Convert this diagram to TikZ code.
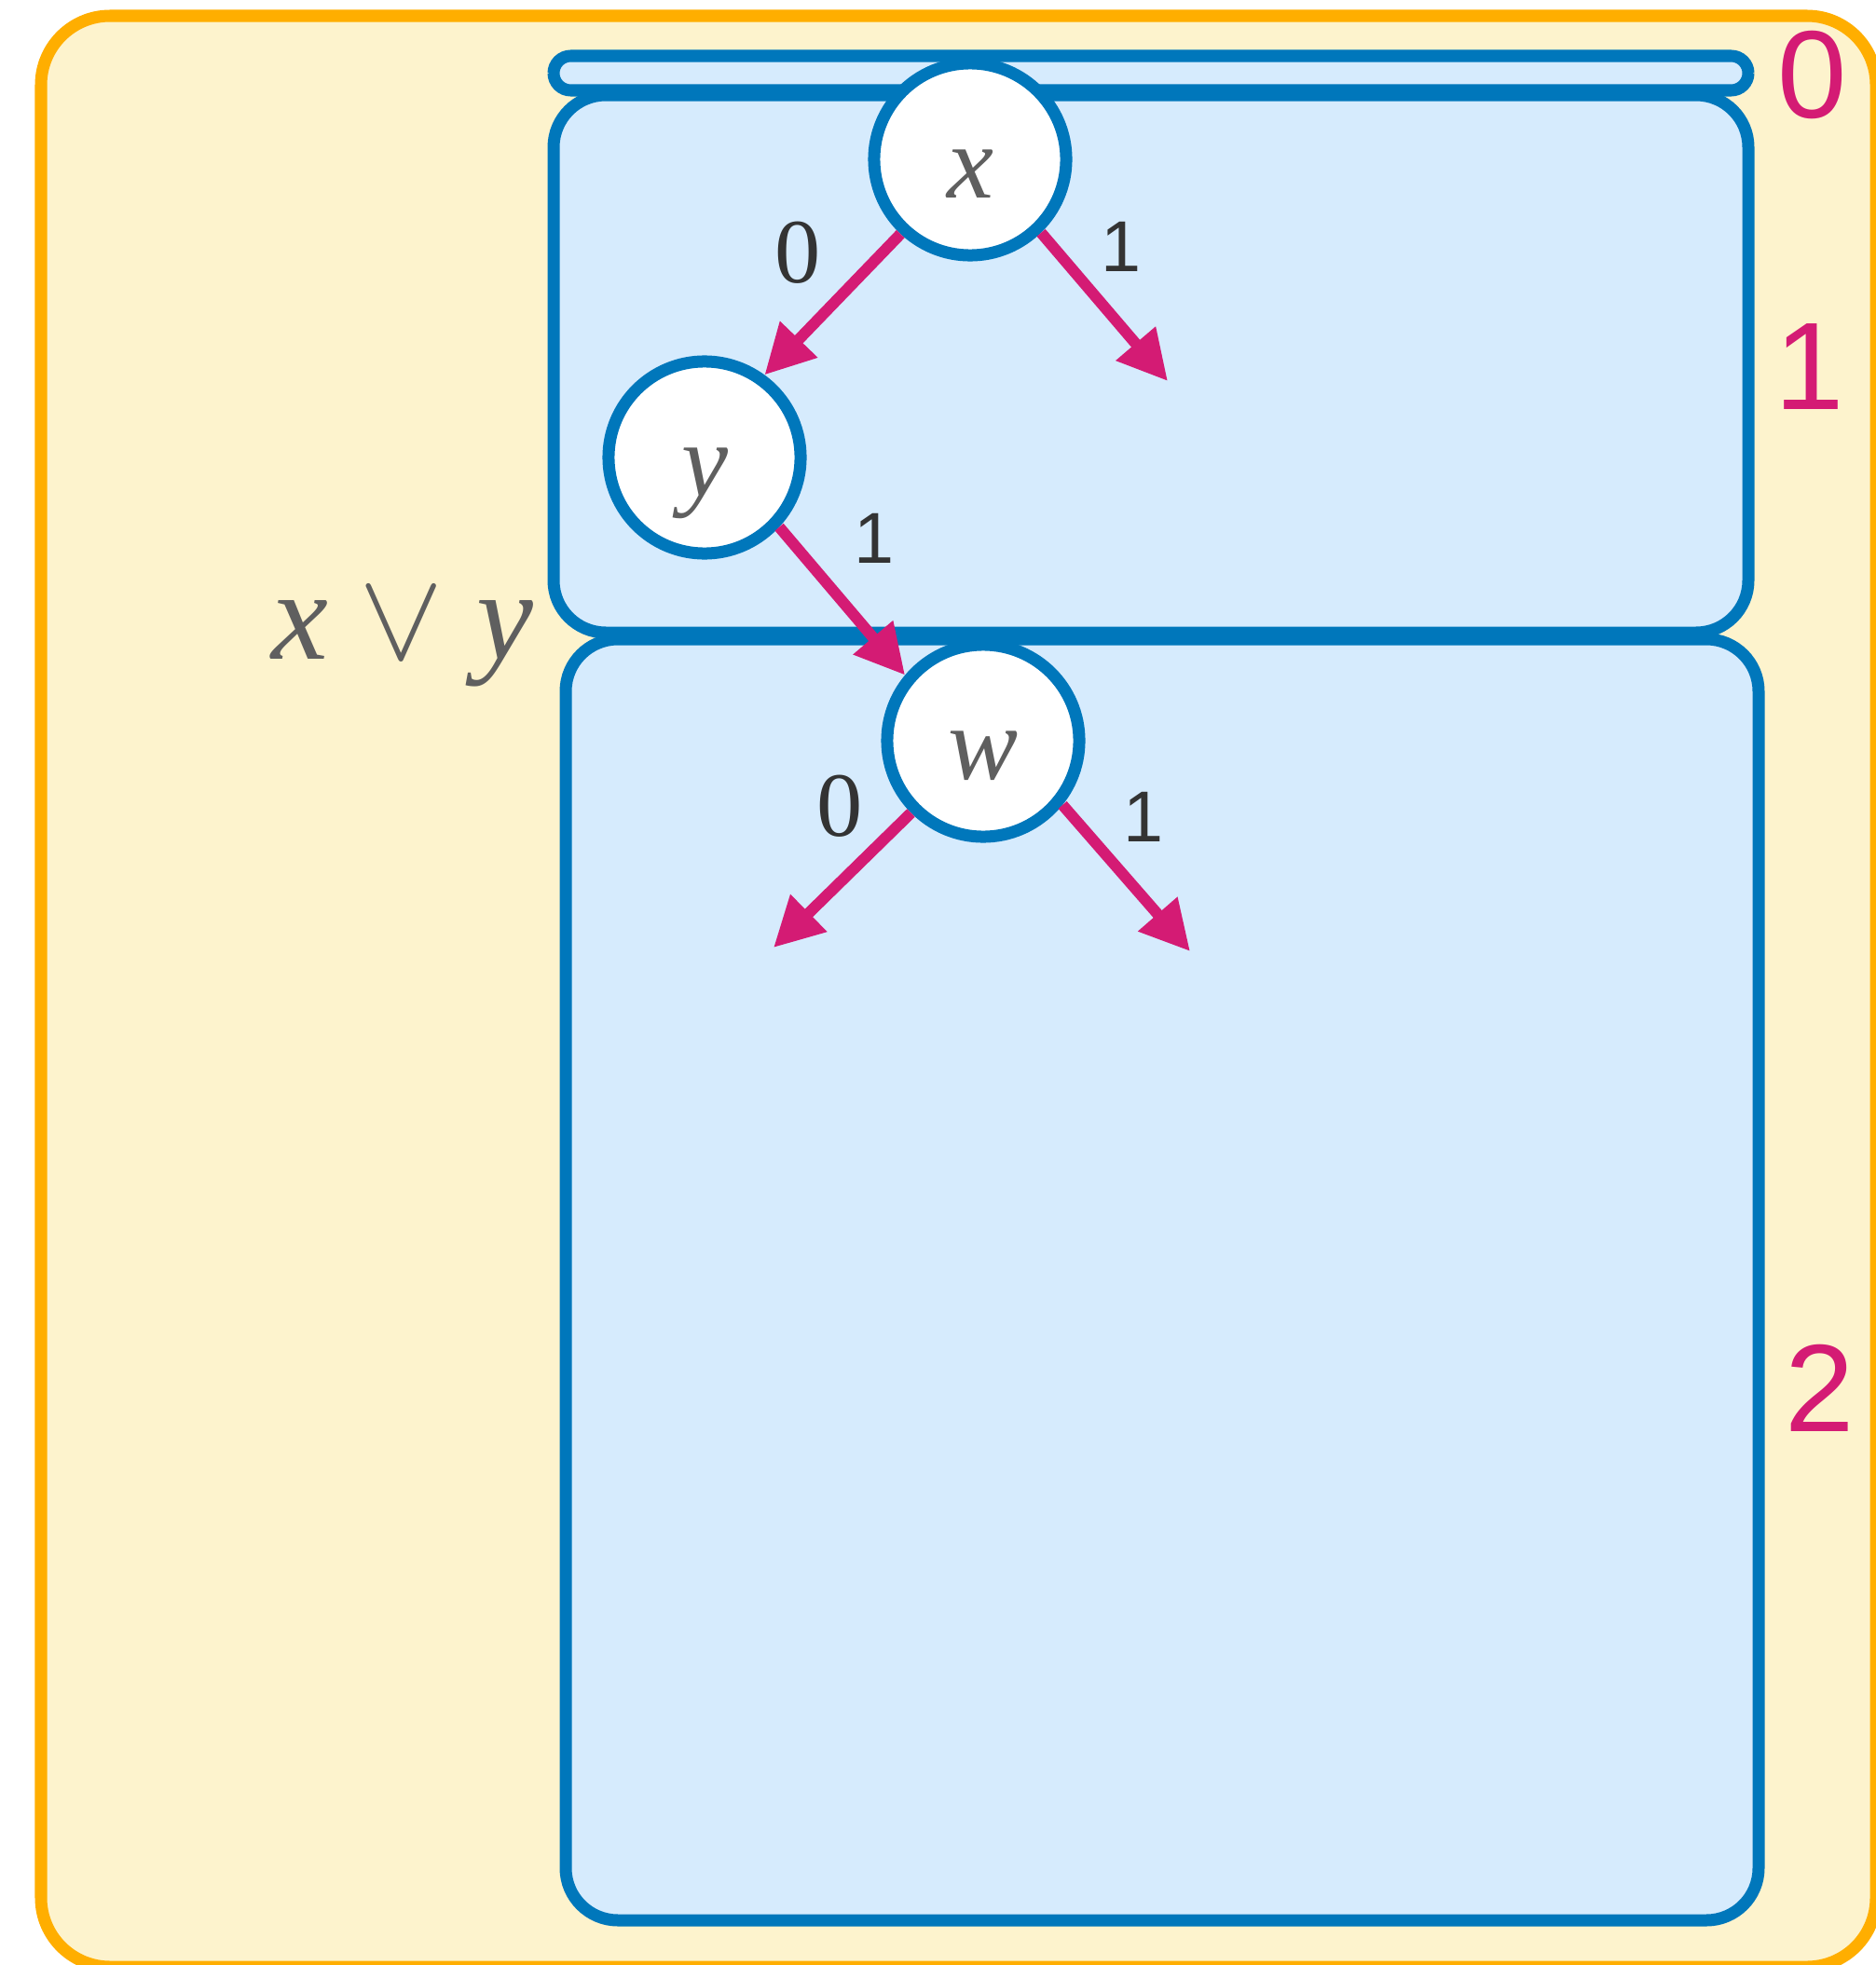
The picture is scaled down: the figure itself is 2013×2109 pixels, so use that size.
\documentclass[tikz,border=0pt]{standalone}
\usepackage{graphicx}
\usepackage{fontspec}
\newfontfamily\digitsans{Liberation Sans}
\newfontfamily\letterserif{Liberation Serif}
\usepackage{tikz}
\usetikzlibrary{arrows.meta, positioning}
\definecolor{tyellow}{HTML}{FDF3CD}
\definecolor{torange}{HTML}{FFAE00}
\definecolor{tblue}{HTML}{0077BB}
\definecolor{tlight}{HTML}{D6EBFD}
\definecolor{tpink}{HTML}{D41B74}
\definecolor{tgray}{HTML}{5F5F5F}
\definecolor{tdark}{HTML}{333333}
\newcommand{\bigmath}[2]{\scalebox{#1}{\Huge$#2$}}

\begin{document}
\begin{tikzpicture}[
  x=0.01cm, y=-0.01cm,
  >={Triangle[length=5.3mm, width=5.3mm]},
  outerbox/.style={draw=torange, fill=tyellow, line width=1.3mm, rounded corners=7.4mm},
  levelbox/.style={draw=tblue, fill=tlight, line width=1.3mm, rounded corners=5.6mm},
  varnode/.style={circle, draw=tblue, fill=white, line width=1.3mm, minimum size=2.06cm,
                  inner sep=0pt, text=tgray, text height=8.2mm, text depth=0pt,
                  font=\letterserif\itshape\fontsize{32}{38}\selectfont},
  branch/.style={->, line width=1.2mm, tpink},
  bitzero/.style={text=tdark, inner sep=0pt, font=\letterserif\fontsize{28}{32}\selectfont},
  bitone/.style={text=tdark, inner sep=0pt, font=\digitsans\fontsize{22}{26}\selectfont},
  lvl/.style={text=tpink, inner sep=0pt, font=\digitsans\fontsize{38}{44}\selectfont}
]
\useasboundingbox (0,0) rectangle (2013,2109);
\clip (0,0) rectangle (2013,2109);

% ---- Background and levels ----
\draw[outerbox] (44,17) rectangle (2013,2111);
\draw[levelbox] (594,102) rectangle (1876,679);
\draw[levelbox] (607,686) rectangle (1887,2061);
\draw[levelbox, rounded corners=1.85mm] (594,60) rectangle (1876,97);

\node[lvl] (lvl0) at (1945,81) {0};
\node[lvl] (lvl1) at (1942,394) {1};
\node[lvl] (lvl2) at (1953,1490) {2};

\node[text=tgray, inner sep=0pt, anchor=base,
      font=\letterserif\itshape\fontsize{39}{46}\selectfont] (formula) at (432,707)
  {x\hspace{0.24em}\bigmath{1.55}{\vee}\hspace{0.26em}y};

% ---- Decision nodes ----
\node[varnode] (x) at (1041,171) {x};
\node[varnode] (y) at (756,491) {y};
\node[varnode] (w) at (1055,795) {w};

\coordinate (xhigh) at (1253,409);
\coordinate (wlow) at (830,1017);
\coordinate (whigh) at (1277,1021);

\draw[branch] (x.227) -- (y.54);
\draw[branch] (x.-46) -- (xhigh);
\draw[branch] (y.-43) -- (w.140);
\draw[branch] (w.225) -- (wlow);
\draw[branch] (w.-39) -- (whigh);

% ---- Branch labels ----
\node[bitzero] (xlab0) at (856,271) {0};
\node[bitone] (xlab1) at (1203,265) {1};
\node[bitone] (ylab1) at (938,578) {1};
\node[bitzero] (wlab0) at (901,865) {0};
\node[bitone] (wlab1) at (1227,877) {1};

\end{tikzpicture}
\end{document}
